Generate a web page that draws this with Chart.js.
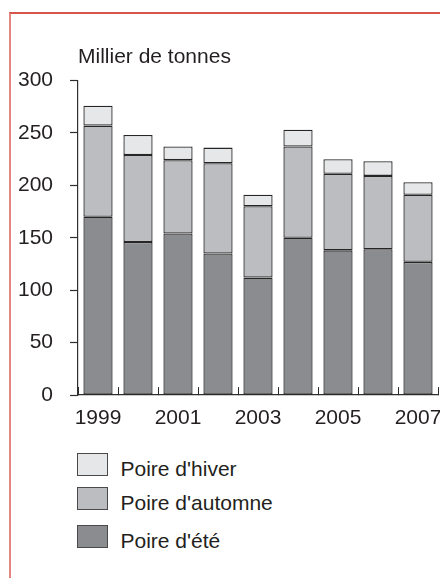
<!DOCTYPE html>
<html><head><meta charset="utf-8">
<script src="https://cdn.jsdelivr.net/npm/chart.js@4/dist/chart.umd.min.js"></script>
<style>
html,body{margin:0;padding:0;width:440px;height:578px;overflow:hidden;background:#fff;font-family:"Liberation Sans",Arial,sans-serif;}
#frame{position:absolute;left:9px;top:12px;width:460px;height:600px;border-top:2px solid #d9554c;border-left:2px solid #e2877f;}
#wrap{position:absolute;left:0;top:0;width:470px;height:440px;}
#legend{position:absolute;left:77px;top:0;}
.box{position:absolute;left:0;width:31px;height:23px;border:1px solid #4a4a4a;box-sizing:border-box;}
.lbl{position:absolute;left:43.5px;white-space:nowrap;font-size:21px;line-height:24px;color:#231f20;}
</style>
</head><body>
<div id="frame"></div>
<div id="wrap"><canvas id="c" width="470" height="440"></canvas></div>
<div id="legend"></div>
<script>
const years = ['1999','2000','2001','2002','2003','2004','2005','2006','2007'];
const poireEte = [170,146,154,135,112,150,138,139,127];
const poireAutomne = [87,83,70,86,68,87,73,70,64];
const poireHiver = [19,19,13,15,11,16,14,14,12];
const seriesNames = ["Poire d'été","Poire d'automne","Poire d'hiver"];
const seriesColors = ['#8b8c8f','#bcbdc0','#e6e7e8'];
const yMin = 0, yMax = 300, yStep = 50;
const unitLabel = 'Millier de tonnes';

const FONT = '"Liberation Sans", Arial, sans-serif';
const INK = '#231f20';
const AXIS = '#2e2e2e';

const ds = [poireEte, poireAutomne, poireHiver].map((d,i)=>({
  label: seriesNames[i],
  data: d,
  backgroundColor: seriesColors[i],
  borderColor: '#262626',
  borderWidth: 1.3,
  borderSkipped: false,
  categoryPercentage: 1,
  barPercentage: 0.73
}));

const chart = new Chart(document.getElementById('c'), {
  type: 'bar',
  data: { labels: years, datasets: ds },
  options: {
    responsive: false,
    animation: false,
    devicePixelRatio: 1,
    layout: { padding: { left: 0, right: 32, top: 0, bottom: 0 } },
    plugins: {
      legend: { display: false },
      tooltip: { enabled: false },
      title: {
        display: true,
        text: unitLabel,
        align: 'start',
        fullSize: false,
        color: INK,
        font: { family: FONT, size: 21, weight: 'normal', lineHeight: 1.2 },
        padding: { top: 44.9, bottom: 10.4 }
      }
    },
    scales: {
      x: {
        stacked: true,
        offset: true,
        grid: { display: true, offset: true, drawOnChartArea: false, drawTicks: true, tickLength: -8, tickColor: AXIS, tickWidth: 1 },
        border: { display: true, color: AXIS, width: 1.2 },
        ticks: {
          autoSkip: false, maxRotation: 0, minRotation: 0, padding: 18.4,
          color: INK, font: { family: FONT, size: 21 },
          callback: (v, i) => (i % 2 === 0 ? years[i] : '')
        },
        afterFit: (s) => { s.paddingLeft = 0; s.paddingRight = 0; s.height = 45; }
      },
      y: {
        stacked: true,
        min: yMin, max: yMax,
        grid: { display: true, drawOnChartArea: false, drawTicks: true, tickLength: 8, tickColor: AXIS, tickWidth: 1.2 },
        border: { display: true, color: AXIS, width: 1.2 },
        ticks: { stepSize: yStep, padding: 17, color: INK, font: { family: FONT, size: 21 } },
        afterFit: (s) => { s.width = 78; }
      }
    }
  }
});

// HTML legend built from the chart's datasets (reverse order, as in the reference)
const legendTops = [453, 487, 525];
const leg = document.getElementById('legend');
chart.data.datasets.slice().reverse().forEach((d, i) => {
  const b = document.createElement('div');
  b.className = 'box';
  b.style.top = legendTops[i] + 'px';
  b.style.background = d.backgroundColor;
  const t = document.createElement('div');
  t.className = 'lbl';
  t.style.top = (legendTops[i] + 3.5) + 'px';
  t.textContent = d.label;
  leg.appendChild(b); leg.appendChild(t);
});
</script>
</body></html>
